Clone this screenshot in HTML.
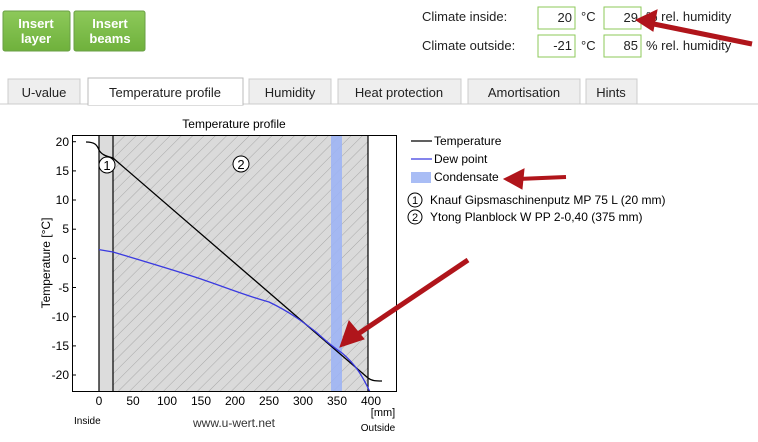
<!DOCTYPE html>
<html><head><meta charset="utf-8"><style>
body{margin:0;width:758px;height:437px;background:#fff;overflow:hidden;font-family:"Liberation Sans",sans-serif}
</style></head><body>
<svg width="758" height="437" xmlns="http://www.w3.org/2000/svg" font-family="Liberation Sans, sans-serif">
<defs>
<linearGradient id="g" x1="0" y1="0" x2="0" y2="1"><stop offset="0" stop-color="#8dc95a"/><stop offset="1" stop-color="#6fb13c"/></linearGradient>
<pattern id="h" width="8" height="8" patternUnits="userSpaceOnUse" patternTransform="rotate(45)"><rect width="8" height="8" fill="#dadada"/><line x1="0" y1="0" x2="0" y2="8" stroke="#a8a8a8" stroke-width="1"/></pattern>
<clipPath id="c"><rect x="72" y="135" width="324" height="256"/></clipPath>
</defs>
<rect x="3" y="11" width="67" height="40" rx="2" fill="url(#g)" stroke="#6a9f45"/>
<rect x="74" y="11" width="71" height="40" rx="2" fill="url(#g)" stroke="#6a9f45"/>
<g fill="#fff" font-size="13" font-weight="bold" text-anchor="middle"><text x="36" y="28">Insert</text><text x="36" y="43">layer</text><text x="110" y="28">Insert</text><text x="110" y="43">beams</text></g>
<g font-size="13" fill="#222"><text x="422" y="21">Climate inside:</text><text x="422" y="50">Climate outside:</text>
<text x="581" y="21">°C</text><text x="581" y="50">°C</text><text x="646" y="21">% rel. humidity</text><text x="646" y="50">% rel. humidity</text></g>
<g fill="#fff" stroke="#8dc95a"><rect x="538" y="7" width="37" height="22"/><rect x="604" y="7" width="37" height="22"/><rect x="538" y="35" width="37" height="22"/><rect x="604" y="35" width="37" height="22"/></g>
<g font-size="13" fill="#222" text-anchor="end"><text x="572" y="22">20</text><text x="638" y="22">29</text><text x="572" y="50">-21</text><text x="638" y="50">85</text></g>
<line x1="0" y1="104" x2="758" y2="104" stroke="#ccc"/>
<g fill="#eee" stroke="#ccc"><rect x="8" y="79" width="72" height="25"/><rect x="249" y="79" width="82" height="25"/><rect x="338" y="79" width="123" height="25"/><rect x="468" y="79" width="112" height="25"/><rect x="586" y="79" width="51" height="25"/></g>
<rect x="88" y="78" width="155" height="27" fill="#fff" stroke="#bbb"/><line x1="88.5" y1="104" x2="242.5" y2="104" stroke="#fff" stroke-width="2"/>
<g font-size="13" fill="#222" text-anchor="middle"><text x="44" y="97">U-value</text><text x="165" y="97">Temperature profile</text><text x="290" y="97">Humidity</text><text x="399" y="97">Heat protection</text><text x="524" y="97">Amortisation</text><text x="611" y="97">Hints</text></g>
<text x="234" y="128" font-size="12" text-anchor="middle">Temperature profile</text>
<rect x="99" y="135" width="14" height="256" fill="#dcdcdc"/>
<rect x="113" y="135" width="255" height="256" fill="url(#h)"/>
<rect x="331" y="135" width="11" height="256" fill="#9db4f4" opacity="0.9"/>
<g stroke="#000" stroke-width="1.2"><line x1="99" y1="135" x2="99" y2="391"/><line x1="113" y1="135" x2="113" y2="391"/><line x1="368" y1="135" x2="368" y2="391"/></g>
<g clip-path="url(#c)" fill="none" stroke-width="1.3">
<path d="M86,142 C95,142 97,145 99,150 C101,154 105,156 113,158 L368,378 C372,381 376,381 382,381" stroke="#000"/>
<path d="M99,249.6 L113,252 C150,263 180,272 201,279 C230,289 250,297 269,302 C290,312 303,322 316,332 C325,340 330,345 342,353 C355,364 362,375 370,392" stroke="#3a3ae0"/>
</g>
<rect x="72.5" y="135.5" width="324" height="256" fill="none" stroke="#000"/>
<g fill="#fff" stroke="#000"><circle cx="107" cy="165" r="8"/><circle cx="241" cy="164" r="8"/></g>
<g font-size="13" text-anchor="middle"><text x="107" y="170">1</text><text x="241" y="169">2</text></g>
<g stroke="#000"><line x1="72" y1="141.7" x2="76" y2="141.7"/><line x1="72" y1="170.9" x2="76" y2="170.9"/><line x1="72" y1="200" x2="76" y2="200"/><line x1="72" y1="229.2" x2="76" y2="229.2"/><line x1="72" y1="258.4" x2="76" y2="258.4"/><line x1="72" y1="287.5" x2="76" y2="287.5"/><line x1="72" y1="316.7" x2="76" y2="316.7"/><line x1="72" y1="345.9" x2="76" y2="345.9"/><line x1="72" y1="375" x2="76" y2="375"/></g>
<g font-size="12" text-anchor="end"><text x="69" y="146">20</text><text x="69" y="175">15</text><text x="69" y="204">10</text><text x="69" y="233">5</text><text x="69" y="263">0</text><text x="69" y="292">-5</text><text x="69" y="321">-10</text><text x="69" y="350">-15</text><text x="69" y="379">-20</text></g>
<g font-size="12" text-anchor="middle"><text x="99" y="405">0</text><text x="133" y="405">50</text><text x="167" y="405">100</text><text x="201" y="405">150</text><text x="235" y="405">200</text><text x="269" y="405">250</text><text x="303" y="405">300</text><text x="337" y="405">350</text><text x="371" y="405">400</text></g>
<text x="383" y="416" font-size="11" text-anchor="middle">[mm]</text>
<text x="378" y="431" font-size="10" text-anchor="middle">Outside</text>
<text x="74" y="424" font-size="10">Inside</text>
<text x="234" y="427" font-size="12" text-anchor="middle" fill="#333">www.u-wert.net</text>
<text transform="translate(50,263) rotate(-90)" font-size="12" text-anchor="middle">Temperature [°C]</text>
<line x1="411" y1="141" x2="432" y2="141" stroke="#000" stroke-width="1.3"/><text x="434" y="145" font-size="12">Temperature</text>
<line x1="411" y1="159" x2="432" y2="159" stroke="#3a3ae0" stroke-width="1.3"/><text x="434" y="163" font-size="12">Dew point</text>
<rect x="411" y="172" width="20" height="11" fill="#a9bdf5"/><text x="434" y="181" font-size="12">Condensate</text>
<g fill="none" stroke="#000"><circle cx="415" cy="200" r="7"/><circle cx="415" cy="217" r="7"/></g>
<g font-size="11" text-anchor="middle"><text x="415" y="204">1</text><text x="415" y="221">2</text></g>
<g font-size="12"><text x="430" y="204">Knauf Gipsmaschinenputz MP 75 L (20 mm)</text><text x="430" y="221">Ytong Planblock W PP 2-0,40 (375 mm)</text></g>
<g fill="#b0151b" stroke="#b0151b">
<path d="M752,44 L644,22" stroke-width="5"/><path d="M636,20 L657,10 L653,31 Z"/>
<path d="M566,177 L518,179" stroke-width="4"/><path d="M504,179 L524,169 L522,189 Z"/>
<path d="M468,260 L352,338" stroke-width="5"/><path d="M340,347 L349,321 L364,339 Z"/>
</g>
</svg>
</body></html>
